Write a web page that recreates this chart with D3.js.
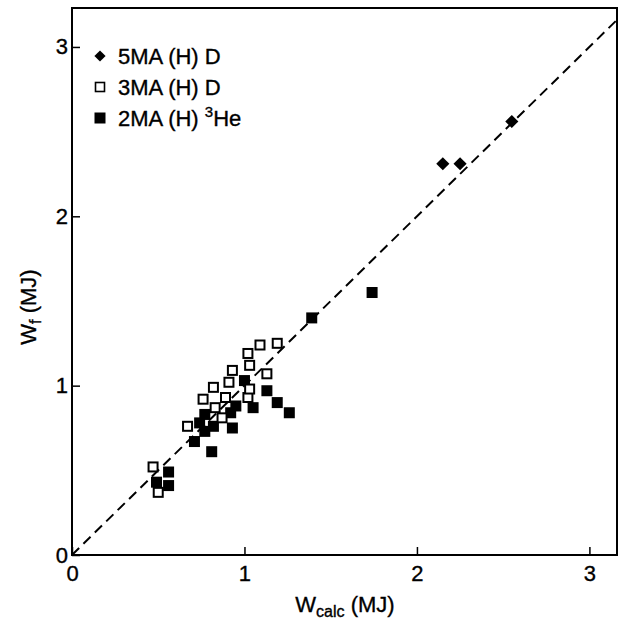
<!DOCTYPE html>
<html>
<head>
<meta charset="utf-8">
<script src="https://cdn.jsdelivr.net/npm/d3@7"></script>
<style>
  body { margin: 0; background: #fff; }
  svg text { font-family: "Liberation Sans", Arial, Helvetica, sans-serif; fill: #000; stroke: #000; stroke-width: 0.35px; }
</style>
</head>
<body>
<svg id="chart" width="628" height="621"></svg>
<script>
// [Wcalc, Wf] in MJ
const diamond5MA = [[2.15, 2.31], [2.25, 2.31], [2.55, 2.56]];
const open3MA = [
  [0.47, 0.52], [0.50, 0.37], [0.67, 0.76], [0.76, 0.92], [0.82, 0.99],
  [0.83, 0.87], [0.87, 0.81], [0.89, 0.93], [0.91, 1.02], [0.93, 1.09],
  [1.02, 0.93], [1.03, 0.98], [1.02, 1.19], [1.03, 1.12], [1.09, 1.24],
  [1.13, 1.07], [1.19, 1.25]
];
const filled2MA = [
  [0.49, 0.43], [0.56, 0.41], [0.56, 0.49], [0.71, 0.67], [0.81, 0.61],
  [0.74, 0.78], [0.77, 0.83], [0.82, 0.76], [0.77, 0.73], [0.93, 0.75],
  [0.92, 0.84], [0.95, 0.88], [1.05, 0.87], [1.00, 1.03], [1.13, 0.97],
  [1.19, 0.90], [1.26, 0.84], [1.39, 1.40], [1.74, 1.55]
];
const ticks = [0, 1, 2, 3];
const legendLabels = ["5MA (H) D", "3MA (H) D", "2MA (H) "];

const svg = d3.select("#chart"),
    width = 628,
    height = 621,
    margin = { top: 8, right: 11, bottom: 66, left: 72 };

const x = d3.scaleLinear().domain([0, 3.16]).range([margin.left, width - margin.right]);
const y = d3.scaleLinear().domain([0, 3.23]).range([height - margin.bottom, margin.top]);

svg.append("clipPath").attr("id", "clip")
  .append("rect")
  .attr("x", margin.left).attr("y", margin.top)
  .attr("width", width - margin.left - margin.right)
  .attr("height", height - margin.top - margin.bottom);

// y = x reference line
svg.append("line")
  .attr("clip-path", "url(#clip)")
  .attr("x1", x(0)).attr("y1", y(0))
  .attr("x2", x(3.3)).attr("y2", y(3.3))
  .attr("stroke", "#000").attr("stroke-width", 2)
  .attr("stroke-dasharray", "10,6");

// axes with inward ticks
const xAxis = svg.append("g")
  .attr("transform", `translate(0,${y(0)})`)
  .call(d3.axisBottom(x).tickValues(ticks).tickFormat(d3.format("d")).tickSize(-8).tickPadding(10));
const yAxis = svg.append("g")
  .attr("transform", `translate(${x(0)},0)`)
  .call(d3.axisLeft(y).tickValues(ticks).tickFormat(d3.format("d")).tickSize(-8).tickPadding(4));
[xAxis, yAxis].forEach(g => {
  g.select(".domain").remove();
  g.selectAll("line").attr("stroke", "#000").attr("stroke-width", 1.5);
  g.selectAll("text").style("font-size", "22px").style("font-family", "'Liberation Sans', Arial, sans-serif").attr("fill", "#000");
});

// frame
svg.append("rect")
  .attr("x", margin.left).attr("y", margin.top)
  .attr("width", width - margin.left - margin.right)
  .attr("height", height - margin.top - margin.bottom)
  .attr("fill", "none").attr("stroke", "#000").attr("stroke-width", 2);

const sq = 11;

svg.selectAll(".filled")
  .data(filled2MA)
  .join("rect")
  .attr("class", "filled")
  .attr("x", d => x(d[0]) - sq / 2)
  .attr("y", d => y(d[1]) - sq / 2)
  .attr("width", sq).attr("height", sq)
  .attr("fill", "#000");

svg.selectAll(".open")
  .data(open3MA)
  .join("rect")
  .attr("class", "open")
  .attr("x", d => x(d[0]) - (sq - 2) / 2)
  .attr("y", d => y(d[1]) - (sq - 2) / 2)
  .attr("width", sq - 2).attr("height", sq - 2)
  .attr("fill", "#fff").attr("stroke", "#000").attr("stroke-width", 2);

const diamond = d3.symbol().type(d3.symbolDiamond2).size(110);
svg.selectAll(".diamond")
  .data(diamond5MA)
  .join("path")
  .attr("class", "diamond")
  .attr("transform", d => `translate(${x(d[0])},${y(d[1])})`)
  .attr("d", diamond)
  .attr("fill", "#000");

// legend
const legend = svg.append("g").attr("transform", "translate(100,56)");
const rowH = 31;
legend.append("path").attr("d", d3.symbol().type(d3.symbolDiamond2).size(80)).attr("fill", "#000");
legend.append("rect").attr("x", -4.5).attr("y", rowH - 4.5).attr("width", 9).attr("height", 9)
  .attr("fill", "#fff").attr("stroke", "#000").attr("stroke-width", 1.6);
legend.append("rect").attr("x", -5.5).attr("y", 2 * rowH - 5.5).attr("width", 11).attr("height", 11).attr("fill", "#000");
legendLabels.forEach((t, i) => {
  const txt = legend.append("text")
    .attr("x", 18).attr("y", i * rowH + 8)
    .style("font-size", "22px")
    .text(t);
  if (i === 2) {
    txt.append("tspan").attr("dy", -9).style("font-size", "15px").text("3");
    txt.append("tspan").attr("dy", 9).text("He");
  }
});

// axis titles
const xt = svg.append("text")
  .attr("x", 345).attr("y", 612)
  .attr("text-anchor", "middle")
  .style("font-size", "22px")
  .text("W");
xt.append("tspan").attr("dy", 5).style("font-size", "16px").text("calc");
xt.append("tspan").attr("dy", -5).text(" (MJ)");

const yt = svg.append("text")
  .attr("transform", "translate(36,307) rotate(-90)")
  .attr("text-anchor", "middle")
  .style("font-size", "22px")
  .text("W");
yt.append("tspan").attr("dy", 5).style("font-size", "16px").text("f");
yt.append("tspan").attr("dy", -5).text(" (MJ)");
</script>
</body>
</html>
